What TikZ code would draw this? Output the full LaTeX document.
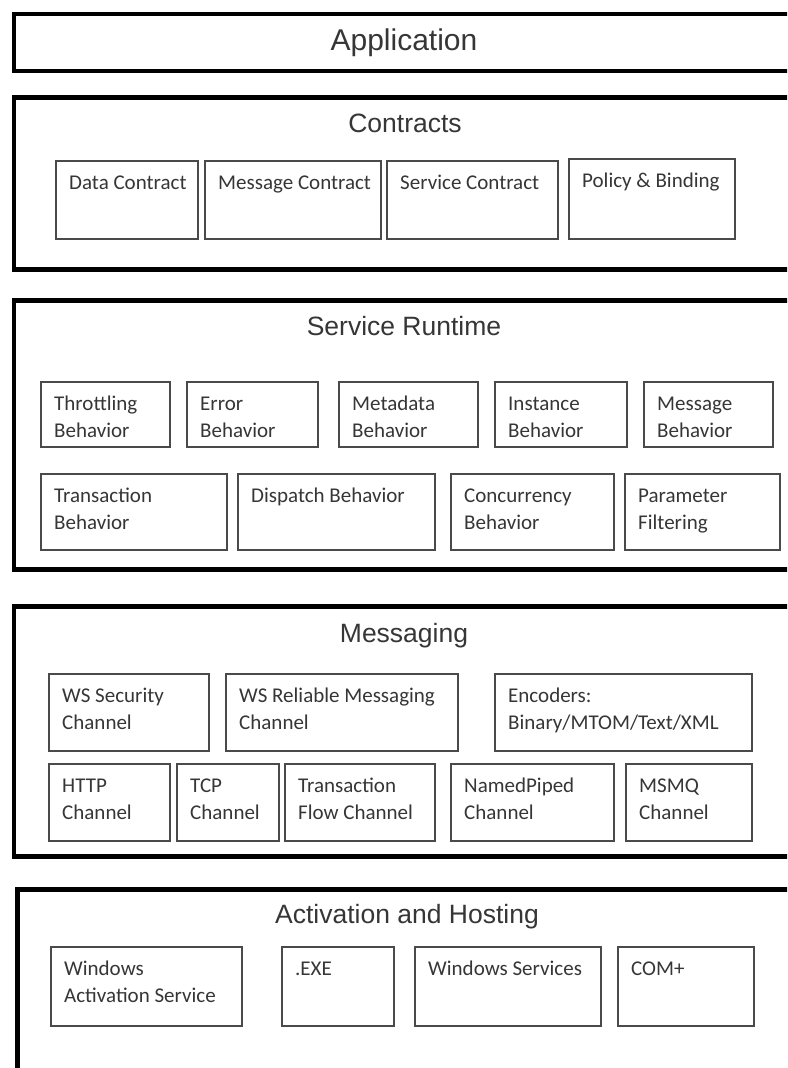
\documentclass[tikz,border=0pt]{standalone}
\usepackage{fontspec}
\setmainfont{Liberation Sans}
\newfontfamily\boxfont{Carlito}
\definecolor{txt}{HTML}{363636}
\definecolor{ibc}{HTML}{4A4A4A}
\newcommand\ibx[6]{%
  \node[ibox, minimum width={(#4-#2)*1pt}, minimum height={(#5-#3)*1pt}] (#1) at (#2,#3) {};
  \node[itxt] (#1-t) at ([xshift=14pt,yshift=-10pt]#1.north west) {\strut #6};}
\begin{document}
\begin{tikzpicture}[x=1pt,y=-1pt,
  outer/.style={draw=black, line width=4.5pt},
  ibox/.style={draw=ibc, line width=1.6pt, inner sep=0pt, anchor=north west},
  itxt/.style={font=\boxfont\fontsize{21}{27}\selectfont, text=txt, align=left, anchor=north west, inner sep=0pt},
  title/.style={font=\fontsize{26.5}{30}\selectfont, text=txt, anchor=base, inner sep=0pt}]
\useasboundingbox (0,0) rectangle (787,1068);
\fill[white] (0,0) rectangle (787,1068);
\clip (0,0) rectangle (787,1068);

% Application
\draw[outer] (14,14) rectangle (800,71);
\node[title, font=\fontsize{30}{34}\selectfont] (app) at (404,50) {Application};

% Contracts
\draw[outer] (14,97.5) rectangle (800,269.5);
\node[title] (con) at (405,132) {Contracts};
\ibx{dc}{55}{160}{197}{238}{Data Contract}
\ibx{mc}{204}{160}{380}{238}{Message Contract}
\ibx{sc}{386}{160}{557}{238}{Service Contract}
\ibx{pb}{568}{158}{734}{238}{Policy \& Binding}

% Service Runtime
\draw[outer] (14,300.5) rectangle (800,569.5);
\node[title] (sr) at (404,335) {Service Runtime};
\ibx{tb}{40}{381}{169}{446}{Throttling\\Behavior}
\ibx{eb}{186}{381}{317}{446}{Error\\Behavior}
\ibx{mb}{338}{381}{477}{446}{Metadata\\Behavior}
\ibx{ib}{494}{381}{626}{446}{Instance\\Behavior}
\ibx{msb}{643}{381}{772}{446}{Message\\Behavior}
\ibx{trb}{40}{473}{226}{549}{Transaction\\Behavior}
\ibx{db}{237}{473}{434}{549}{Dispatch Behavior}
\ibx{cb}{450}{473}{613}{549}{Concurrency\\Behavior}
\ibx{pf}{624}{473}{779}{549}{Parameter\\Filtering}

% Messaging
\draw[outer] (14,606.5) rectangle (800,856.5);
\node[title] (msg) at (404,642) {Messaging};
\ibx{wss}{48}{673}{208}{750}{WS Security\\Channel}
\ibx{wsr}{225}{673}{457}{750}{WS Reliable Messaging\\Channel}
\ibx{enc}{494}{673}{751}{750}{Encoders:\\Binary/MTOM/Text/XML}
\ibx{http}{48}{763}{169}{840}{HTTP\\Channel}
\ibx{tcp}{176}{763}{278}{840}{TCP\\Channel}
\ibx{tfc}{284}{763}{434}{840}{Transaction\\Flow Channel}
\ibx{np}{450}{763}{613}{840}{NamedPiped\\Channel}
\ibx{msmq}{625}{763}{751}{840}{MSMQ\\Channel}

% Activation and Hosting
\draw[outer] (800,889.5) -- (17.5,889.5) -- (17.5,1090);
\node[title] (act) at (407,923) {Activation and Hosting};
\ibx{was}{50}{946}{241}{1025}{Windows\\Activation Service}
\ibx{exe}{281}{946}{393}{1025}{.EXE}
\ibx{wsv}{414}{946}{600}{1025}{Windows Services}
\ibx{com}{617}{946}{753}{1025}{COM+}
\end{tikzpicture}
\end{document}
